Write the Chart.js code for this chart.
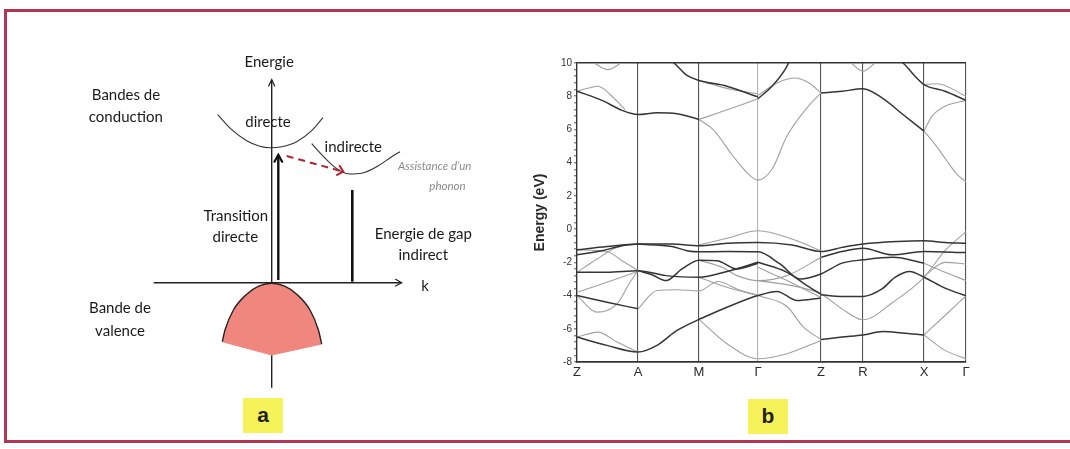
<!DOCTYPE html>
<html>
<head>
<meta charset="utf-8">
<title>Gap direct / indirect et structure de bandes</title>
<script src="https://cdn.jsdelivr.net/npm/chart.js@4.4.1/dist/chart.umd.min.js"></script>
<style>
  html, body { margin: 0; padding: 0; background: #fff; }
  body { width: 1070px; height: 449px; position: relative; overflow: hidden; }
  #frame {
    position: absolute; left: 4px; top: 9px; width: 1090px; height: 434px;
    border: 3px solid #b23553; border-right: none; box-sizing: border-box;
  }
  canvas { position: absolute; }
  #schema { left: 60px; top: 40px; }
  #bands { left: 520px; top: 50px; }
  .tag {
    position: absolute; width: 40px; height: 35px; background: #f6f25a;
    font: bold 21px "Liberation Sans", Arial, sans-serif; color: #222;
    text-align: center; line-height: 33px;
  }
</style>
</head>
<body>
<div id="frame"></div>
<canvas id="schema" width="460" height="370"></canvas>
<canvas id="bands" width="470" height="340"></canvas>
<div class="tag" style="left:243px; top:398px;">a</div>
<div class="tag" style="left:748px; top:399px;">b</div>

<script>
// ---------- panel a : schematic, arbitrary units (k, E) ----------
const kAxis = [[-11.8, 0], [13.0, 0]];
const energyAxis = [[0, -10.5], [0, 20.3]];
const directBand = [[-5.4, 16.8], [-4, 15.3], [-2.5, 14.2], [-1.2, 13.65], [-0.17, 13.5], [1, 13.6], [2.5, 14.1], [4, 15.2], [5.13, 16.5]];
const indirectBand = [[4.0, 13.9], [5.0, 12.8], [6.0, 11.8], [7.0, 11.1], [7.83, 10.87], [9, 10.95], [10.5, 11.6], [12, 12.6], [12.83, 13.1]];
const valenceTop = [[-4.94, -5.9], [-4.67, -4.73], [-3.83, -2.73], [-2.5, -1.15], [-1.3, -0.35], [0, -0.05], [1.3, -0.35], [2.5, -1.15], [3.83, -2.73], [4.67, -4.73], [5.0, -6.13]];
const valenceBottom = [[-4.94, -5.9], [0, -7.23], [5.0, -6.13]];
const directTransition = [[0.66, 0.27], [0.66, 12.8]];
const indirectGap = [[8.06, 0.1], [8.06, 9.27]];
const phononStep = [[1.5, 12.67], [7.16, 11.1]];

// ---------- panel b : band structure, k along Z-A-M-Γ-Z-R-X-Γ ----------
const kPos = [0, 61, 122, 181, 244, 286, 347, 389];
const kLabels = ['Z', 'A', 'M', 'Γ', 'Z', 'R', 'X', 'Γ'];
const energyMin = -8;
const energyMax = 10;

const conductionDark = [
  [[0, 8.3], [25, 7.75], [45, 7.15], [61, 6.9], [80, 7.0], [100, 6.95], [122, 6.6]],
  [[181, 7.85], [195, 8.6], [208, 9.6], [214, 10.3]],
  [[244, 8.2], [265, 8.3], [286, 8.45], [305, 7.9], [326, 6.9], [347, 5.9]],
  [[314, 10.4], [326, 10], [338, 9.2], [347, 8.7], [368, 8.3], [389, 7.75]],
  [[88, 10.4], [97, 10], [110, 9.25], [122, 8.95], [150, 8.6], [181, 7.95]]
];
const conductionLight = [
  [[0, 8.3], [12, 8.5], [21, 8.6], [35, 8.0], [48, 7.2]],
  [[122, 6.6], [136, 6.0], [156, 4.4], [170, 3.4], [181, 2.95], [195, 3.6], [210, 5.6], [230, 7.3], [244, 8.2]],
  [[122, 6.6], [156, 7.3], [181, 7.85]],
  [[181, 8.05], [200, 8.8], [218, 9.1], [232, 8.8], [244, 8.2]],
  [[347, 5.9], [355, 6.8], [368, 7.4], [389, 7.75]],
  [[347, 5.9], [358, 5.1], [370, 4.1], [380, 3.3], [389, 2.85]],
  [[347, 8.7], [360, 8.75], [389, 8.0]],
  [[122, 8.95], [155, 8.4], [181, 8.15]],
  [[17, 10], [31, 9.6], [44, 10]],
  [[274, 10], [286, 9.5], [298, 10]]
];
const valenceDark = [
  [[0, -1.25], [30, -1.05], [61, -0.9], [95, -0.9], [122, -1.0], [150, -0.85], [181, -0.8], [215, -0.95], [244, -1.35], [265, -1.1], [286, -0.9], [320, -0.75], [347, -0.7], [368, -0.8], [389, -0.85]],
  [[0, -1.55], [25, -1.3], [45, -1.0], [61, -0.9]],
  [[61, -0.9], [95, -1.05], [110, -1.3], [122, -1.37], [150, -1.35], [181, -1.37], [203, -2.1], [223, -3.0], [244, -2.7], [265, -2.05], [286, -1.85], [316, -1.7], [347, -2.05]],
  [[181, -2.0], [210, -2.6], [230, -3.4], [244, -3.92]],
  [[244, -1.7], [265, -1.35], [286, -1.15], [315, -1.55], [347, -1.35], [389, -1.41]],
  [[244, -3.95], [265, -4.05], [286, -4.05], [305, -3.6], [318, -2.9], [333, -2.55], [347, -2.9], [368, -3.55], [389, -4.02]],
  [[244, -6.65], [265, -6.5], [286, -6.37], [306, -6.17], [325, -6.25], [347, -6.37]],
  [[0, -2.6], [30, -2.6], [61, -2.5], [89, -2.8], [122, -2.9], [150, -2.55], [181, -2.0]],
  [[61, -2.5], [75, -2.75], [89, -3.1], [105, -2.4], [122, -1.87], [140, -1.9], [160, -2.4], [181, -2.05]],
  [[0, -4.0], [30, -4.4], [61, -4.8]],
  [[0, -6.5], [30, -7.0], [61, -7.4], [80, -7.0], [100, -6.1], [122, -5.43]],
  [[122, -5.43], [150, -4.7], [181, -4.0], [200, -3.75], [220, -4.3], [244, -4.15]]
];
const valenceLight = [
  [[122, -0.95], [150, -0.55], [181, -0.1], [215, -0.6], [244, -1.3]],
  [[0, -2.6], [20, -1.8], [36, -1.2], [48, -0.95]],
  [[0, -1.25], [30, -1.35], [45, -1.9], [61, -2.5]],
  [[0, -3.8], [30, -3.2], [61, -2.55]],
  [[0, -4.0], [20, -5.0], [40, -4.5], [53, -3.2], [61, -2.5]],
  [[0, -6.5], [21, -6.2], [40, -6.8], [61, -7.4]],
  [[61, -4.8], [80, -3.7], [100, -3.65], [122, -3.72], [141, -3.15], [160, -3.6], [181, -4.0]],
  [[122, -5.43], [150, -6.9], [181, -7.8], [210, -7.5], [244, -6.7]],
  [[122, -1.87], [145, -2.3], [160, -2.8], [181, -3.1], [210, -2.8], [244, -1.7]],
  [[181, -2.3], [210, -3.1], [230, -3.7], [244, -4.12]],
  [[181, -4.0], [210, -4.66], [226, -5.87], [244, -6.65]],
  [[181, -3.1], [215, -3.4], [244, -3.9], [265, -4.8], [286, -5.46], [316, -4.4], [347, -2.9], [368, -1.3], [389, -0.15]],
  [[347, -2.05], [368, -2.6], [389, -3.1]],
  [[347, -2.85], [368, -2.0], [389, -2.1]],
  [[347, -6.37], [368, -5.2], [389, -4.02]],
  [[347, -6.37], [368, -7.3], [389, -7.8]],
  [[122, -2.9], [150, -3.5], [181, -4.0]]
];

// ---------- helpers ----------
const toXY = pts => pts.map(([x, y]) => ({ x, y }));
Chart.defaults.animation = false;
Chart.defaults.events = [];
Chart.defaults.plugins.legend.display = false;
Chart.defaults.plugins.tooltip.enabled = false;

// open arrow heads at the end of flagged datasets
const arrowHeads = {
  id: 'arrowHeads',
  afterDatasetsDraw(chart) {
    const ctx = chart.ctx;
    chart.data.datasets.forEach((ds, i) => {
      if (!ds.arrow) return;
      const pts = chart.getDatasetMeta(i).data;
      const a = pts[pts.length - 2], b = pts[pts.length - 1];
      const ang = Math.atan2(b.y - a.y, b.x - a.x);
      const L = ds.arrow.size, w = ds.arrow.spread;
      ctx.save();
      ctx.strokeStyle = ds.borderColor;
      ctx.lineWidth = ds.arrow.width;
      ctx.lineCap = 'round';
      ctx.beginPath();
      ctx.moveTo(b.x - L * Math.cos(ang - w), b.y - L * Math.sin(ang - w));
      ctx.lineTo(b.x, b.y);
      ctx.lineTo(b.x - L * Math.cos(ang + w), b.y - L * Math.sin(ang + w));
      ctx.stroke();
      ctx.restore();
    });
  }
};

// text notes placed in data units
const notes = {
  id: 'notes',
  afterDatasetsDraw(chart, args, opts) {
    const { ctx, scales: { x, y } } = chart;
    ctx.save();
    ctx.textAlign = 'center';
    ctx.textBaseline = 'middle';
    for (const n of opts.items) {
      ctx.font = n.font || opts.font;
      ctx.fillStyle = n.color || opts.color;
      ctx.fillText(n.text, x.getPixelForValue(n.k), y.getPixelForValue(n.e));
    }
    ctx.restore();
  }
};

const line = (pts, color, width, extra = {}) => Object.assign({
  data: toXY(pts), showLine: true, borderColor: color, borderWidth: width,
  pointRadius: 0, cubicInterpolationMode: 'monotone', fill: false
}, extra);

// ---------- panel a ----------
new Chart(document.getElementById('schema'), {
  type: 'scatter',
  data: {
    datasets: [
      line(valenceTop, '#2a2222', 1.4, { fill: '+1', backgroundColor: '#f0877e' }),
      line(valenceBottom, '#ee8a82', 1, { cubicInterpolationMode: 'default', tension: 0 }),
      line(directTransition, '#111', 2.4, { arrow: { size: 8, spread: 0.5, width: 2.2 } }),
      line(phononStep, '#b3222e', 2, { borderDash: [7, 5], arrow: { size: 7, spread: 0.75, width: 2 } }),
      line(indirectGap, '#111', 2.6),
      line(directBand, '#333', 1.1),
      line(indirectBand, '#333', 1.1),
      line(energyAxis, '#222', 1.4, { arrow: { size: 7, spread: 0.45, width: 1.2 } }),
      line(kAxis, '#222', 1.4, { arrow: { size: 7, spread: 0.5, width: 1.2 } })
    ]
  },
  options: {
    responsive: false,
    layout: { padding: 0 },
    scales: {
      x: { display: false, min: -21.17, max: 24.83 },
      y: { display: false, min: -12.73, max: 24.27 }
    },
    plugins: {
      notes: {
        font: '15px Lato, "Open Sans", sans-serif',
        color: '#1a1a1a',
        items: [
          { text: 'Energie', k: -0.25, e: 22.1 },
          { text: 'Bandes de', k: -14.57, e: 18.77 },
          { text: 'conduction', k: -14.59, e: 16.6 },
          { text: 'directe', k: -0.37, e: 16.1 },
          { text: 'indirecte', k: 8.16, e: 13.54 },
          { text: 'Assistance d\u2019un', k: 16.3, e: 11.67, font: 'italic 11.5px Lato, sans-serif', color: '#8a8a8a' },
          { text: 'phonon', k: 17.58, e: 9.6, font: 'italic 11.5px Lato, sans-serif', color: '#8a8a8a' },
          { text: 'Transition', k: -3.59, e: 6.7 },
          { text: 'directe', k: -3.64, e: 4.6 },
          { text: 'Energie de gap', k: 15.16, e: 4.87 },
          { text: 'indirect', k: 15.16, e: 2.77 },
          { text: 'k', k: 15.33, e: -0.33 },
          { text: 'Bande de', k: -15.17, e: -2.5 },
          { text: 'valence', k: -15.17, e: -4.83 }
        ]
      }
    }
  },
  plugins: [arrowHeads, notes]
});

// ---------- panel b ----------
const DARK = '#353535';
const LIGHT = '#a0a0a0';
const bandSets = [
  ...conductionLight.map(c => line(c, LIGHT, 1.1, { clip: 0 })),
  ...valenceLight.map(c => line(c, LIGHT, 1.1, { clip: 0 })),
  ...conductionDark.map(c => line(c, DARK, 1.5, { clip: 0 })),
  ...valenceDark.map(c => line(c, DARK, 1.5, { clip: 0 }))
].reverse();

const near = (a, b) => Math.abs(a - b) < 1e-6;

new Chart(document.getElementById('bands'), {
  type: 'scatter',
  data: { datasets: bandSets },
  options: {
    responsive: false,
    layout: { padding: { top: 13, right: 24, left: 0, bottom: 0 } },
    scales: {
      x: {
        type: 'linear', min: kPos[0], max: kPos[kPos.length - 1],
        afterBuildTicks: s => { s.ticks = kPos.map(v => ({ value: v })); },
        afterFit: s => { s.height = 28; },
        ticks: {
          autoSkip: false, maxRotation: 0, padding: 3,
          color: '#2a2a2a', font: { family: '"Liberation Sans", Arial, sans-serif', size: 13 },
          callback: (v, i) => kLabels[i]
        },
        grid: {
          drawTicks: false,
          lineWidth: 1.1,
          color: c => (c.tick && near(c.tick.value, 181)) ? '#b4b4b4' : '#555'
        },
        border: { display: true, color: '#333', width: 1.8 }
      },
      y: {
        type: 'linear', min: energyMin, max: energyMax,
        afterFit: s => { s.width = 57; },
        ticks: {
          stepSize: 0.4, autoSkip: false, padding: 2,
          color: '#333', font: { family: '"Liberation Sans", Arial, sans-serif', size: 10 },
          callback: v => (near(v / 2, Math.round(v / 2)) ? String(Math.round(v)) : '')
        },
        grid: {
          drawOnChartArea: true, tickLength: 3, tickColor: '#555', tickWidth: 1,
          lineWidth: 1.6,
          color: c => (c.tick && near(c.tick.value, energyMax)) ? '#333' : 'rgba(0,0,0,0)'
        },
        border: { display: true, color: '#333', width: 1.3 },
        title: {
          display: true, text: 'Energy (eV)', color: '#2a2a2a',
          font: { family: '"Liberation Sans", Arial, sans-serif', size: 14, weight: 'bold' },
          padding: { top: 12, bottom: 2 }
        }
      }
    }
  }
});
</script>
</body>
</html>
